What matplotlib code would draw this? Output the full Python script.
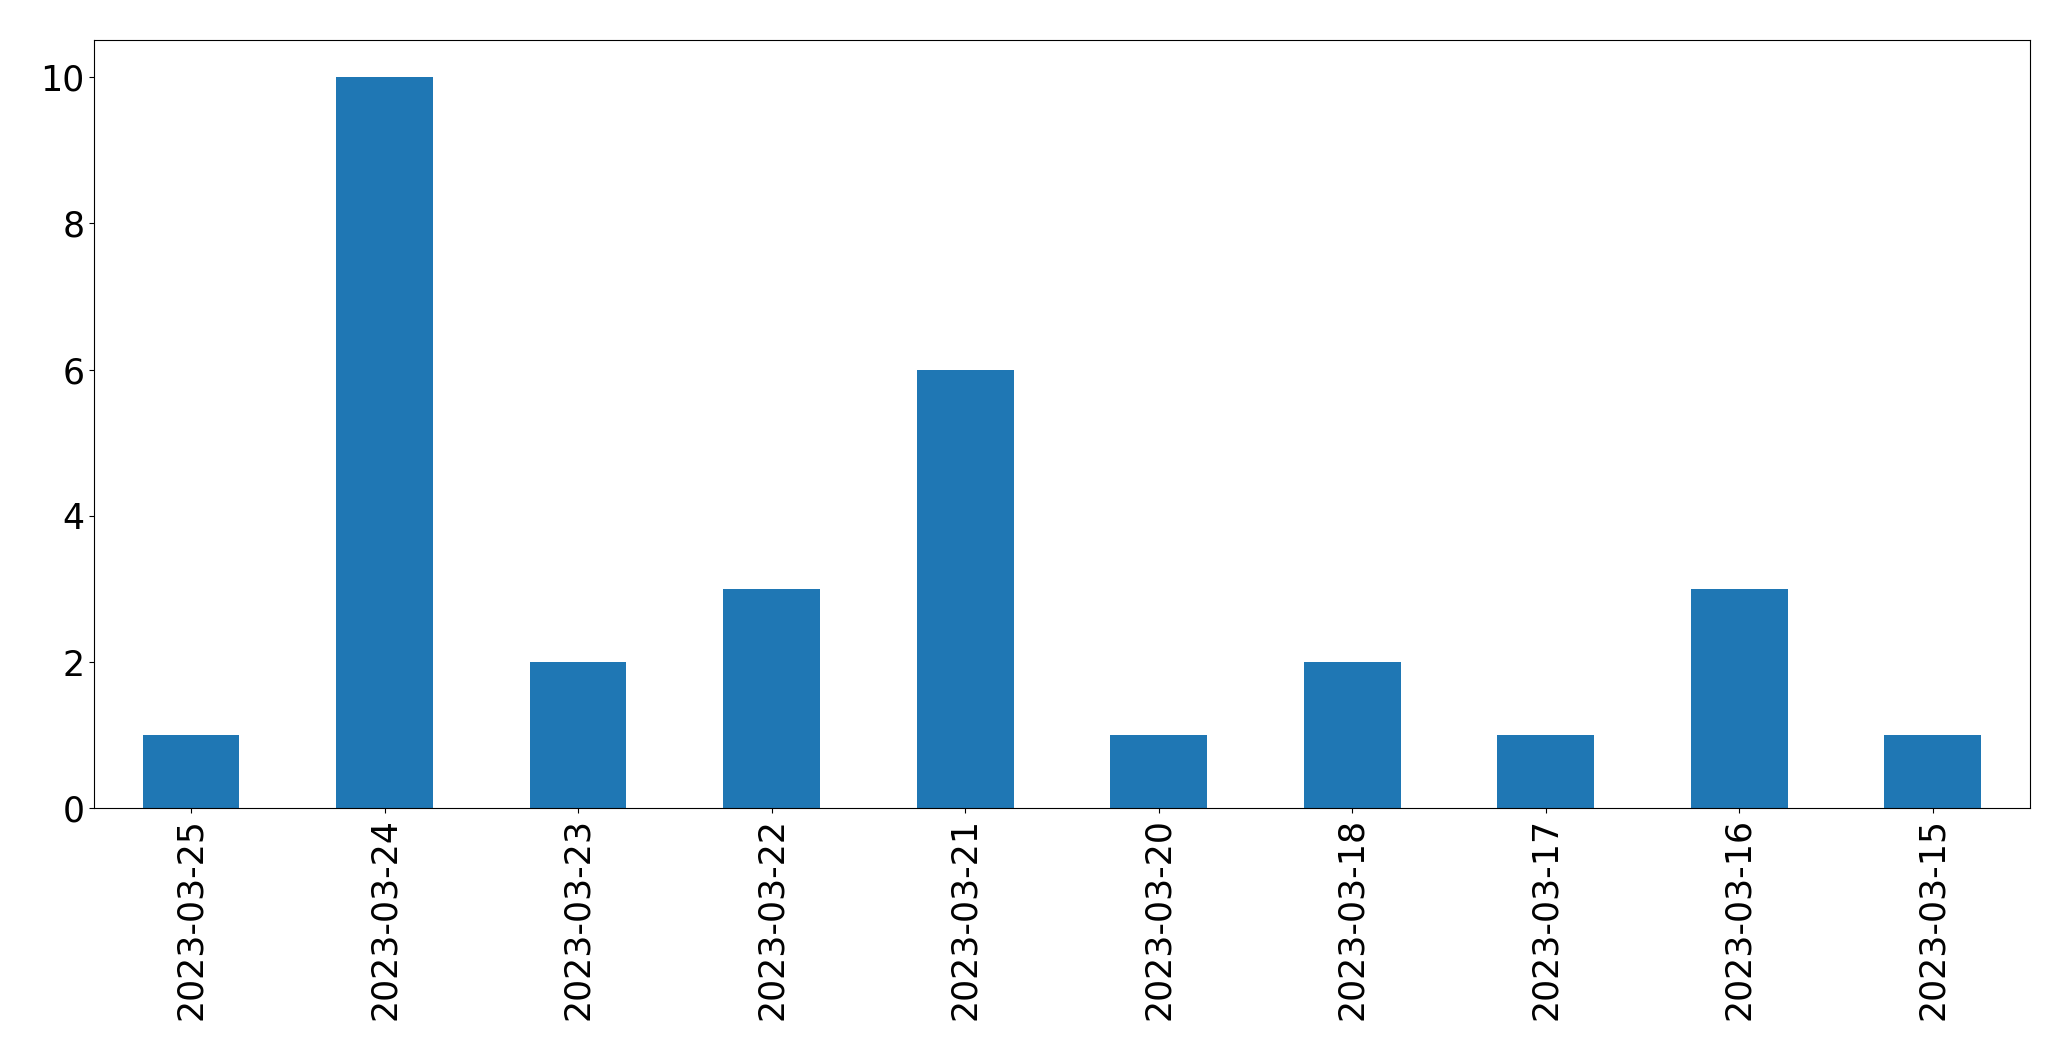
import matplotlib
matplotlib.use('Agg')
import matplotlib.pyplot as plt

dates = ['2023-03-25', '2023-03-24', '2023-03-23', '2023-03-22', '2023-03-21',
         '2023-03-20', '2023-03-18', '2023-03-17', '2023-03-16', '2023-03-15']
counts = [1, 10, 2, 3, 6, 1, 2, 1, 3, 1]

fig = plt.figure(figsize=(20.71, 10.61), dpi=100)
ax = fig.add_axes([0.0455, 0.238, 0.9345, 0.724])

x = range(len(dates))
ax.bar(x, counts, width=0.5, color='#1f77b4')
ax.set_xlim(-0.5, len(dates) - 0.5)
ax.set_ylim(0, 10.5)
ax.set_xticks(list(x))
ax.set_xticklabels(dates, rotation=90, fontsize=25)
ax.tick_params(axis='y', labelsize=25)

fig.savefig('out.png', dpi=100)
